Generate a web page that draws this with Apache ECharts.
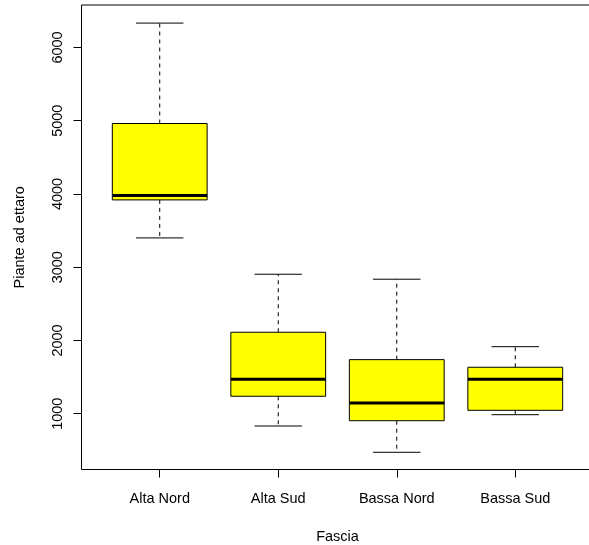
<!DOCTYPE html>
<html>
<head>
<meta charset="utf-8">
<script src="https://cdn.jsdelivr.net/npm/echarts@6/dist/echarts.min.js"></script>
<style>
html,body{margin:0;padding:0;background:#fff;}
#chart{width:589px;height:545px;}
</style>
</head>
<body>
<div id="chart"></div>
<script>
var categories = ['Alta Nord', 'Alta Sud', 'Bassa Nord', 'Bassa Sud'];
var lowWhisker = [3400, 832, 473, 986];
var q1 = [3919, 1238, 904, 1046];
var median = [3978, 1470, 1146, 1470];
var q3 = [4962, 2112, 1738, 1634];
var highWhisker = [6333, 2904, 2836, 1915];
var yTicks = [1000, 2000, 3000, 4000, 5000, 6000];
var xTitle = 'Fascia';
var yTitle = 'Piante ad ettaro';

var boxData = categories.map(function (c, i) {
  return [i + 1, lowWhisker[i], q1[i], median[i], q3[i], highWhisker[i]];
});
var positions = categories.map(function (c, i) { return i + 1; });

var font = '"Liberation Sans", Arial, sans-serif';
var chart = echarts.init(document.getElementById('chart'), null, {renderer: 'canvas'});
chart.setOption({
  animation: false,
  backgroundColor: '#fff',
  grid: {
    left: 81.5, top: 5, width: 512, height: 464.5,
    outerBoundsMode: 'none', containLabel: false,
    show: true, borderColor: '#000', borderWidth: 1, backgroundColor: 'transparent'
  },
  xAxis: {
    type: 'value', min: 0.34, max: 4.66,
    name: xTitle, nameLocation: 'middle', nameGap: 60,
    nameTextStyle: {fontFamily: font, fontSize: 14.5, color: '#000'},
    axisLine: {show: false},
    splitLine: {show: false},
    axisTick: {show: true, customValues: positions, length: 8, lineStyle: {color: '#000'}},
    axisLabel: {
      customValues: positions, margin: 22,
      fontFamily: font, fontSize: 14.5, color: '#000',
      formatter: function (v) { return categories[Math.round(v) - 1] || ''; }
    }
  },
  yAxis: {
    type: 'value', min: 238, max: 6580,
    name: yTitle, nameLocation: 'middle', nameGap: 54,
    nameTextStyle: {fontFamily: font, fontSize: 14.5, color: '#000'},
    axisLine: {show: false},
    splitLine: {show: false},
    axisTick: {show: true, customValues: yTicks, length: 8, lineStyle: {color: '#000'}},
    axisLabel: {
      customValues: yTicks, rotate: 90, margin: 16,
      fontFamily: font, fontSize: 14.5, color: '#000',
      formatter: function (v) { return String(v); }
    }
  },
  series: [{
    type: 'custom',
    data: boxData,
    encode: {x: 0, y: [1, 2, 3, 4, 5]},
    renderItem: function (params, api) {
      var x = api.value(0);
      var pLow = api.coord([x, api.value(1)]);
      var pQ1 = api.coord([x, api.value(2)]);
      var pMed = api.coord([x, api.value(3)]);
      var pQ3 = api.coord([x, api.value(4)]);
      var pHigh = api.coord([x, api.value(5)]);
      var unit = api.size([1, 0])[0];
      var half = unit * 0.4, cap = unit * 0.2;
      var cx = pMed[0];
      var dash = {stroke: '#000', lineWidth: 1, lineDash: [4, 4]};
      var solid = {stroke: '#000', lineWidth: 1};
      return {
        type: 'group',
        children: [
          {type: 'line', shape: {x1: cx, y1: pQ3[1], x2: cx, y2: pHigh[1]}, style: dash},
          {type: 'line', shape: {x1: cx, y1: pQ1[1], x2: cx, y2: pLow[1]}, style: dash},
          {type: 'line', shape: {x1: cx - cap, y1: pHigh[1], x2: cx + cap, y2: pHigh[1]}, style: solid},
          {type: 'line', shape: {x1: cx - cap, y1: pLow[1], x2: cx + cap, y2: pLow[1]}, style: solid},
          {type: 'rect', shape: {x: cx - half, y: pQ3[1], width: 2 * half, height: pQ1[1] - pQ3[1]},
            style: {fill: '#ffff00', stroke: '#000', lineWidth: 1}},
          {type: 'line', shape: {x1: cx - half, y1: pMed[1], x2: cx + half, y2: pMed[1]},
            style: {stroke: '#000', lineWidth: 3}}
        ]
      };
    }
  }]
});
</script>
</body>
</html>
